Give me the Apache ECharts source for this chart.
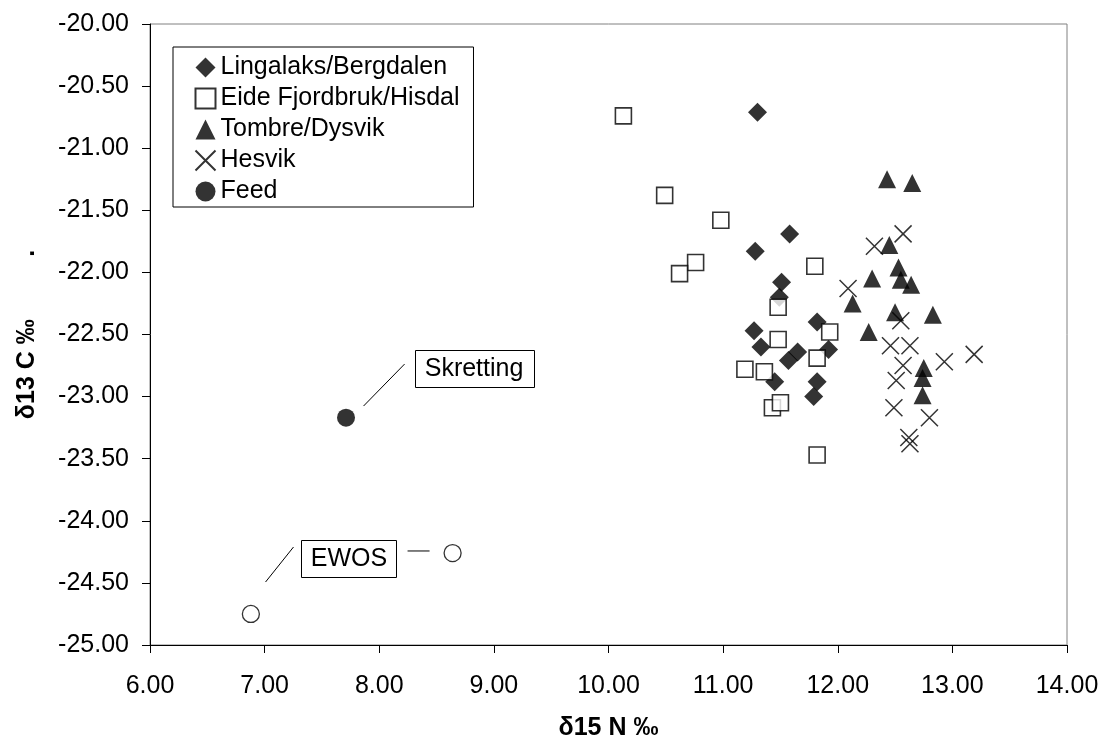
<!DOCTYPE html>
<html><head><meta charset="utf-8">
<script src="https://cdn.jsdelivr.net/npm/echarts@6/dist/echarts.min.js"></script>
<style>html,body{margin:0;padding:0;background:#fff}#c{width:1102px;height:738px}</style>
</head><body><div id="c"></div>
<script>
// ---- data (δ15N ‰, δ13C ‰) ----
const lingalaks = [
  [11.30,-20.71],[11.58,-21.69],[11.28,-21.83],[11.51,-22.08],[11.49,-22.20],
  [11.82,-22.40],[11.92,-22.62],[11.27,-22.47],[11.33,-22.60],[11.57,-22.71],
  [11.65,-22.64],[11.45,-22.88],[11.82,-22.88],[11.79,-23.00]
];
const eide = [
  [10.13,-20.74],[10.49,-21.38],[10.98,-21.58],[10.76,-21.92],[10.62,-22.01],
  [11.80,-21.95],[11.48,-22.28],[11.93,-22.48],[11.48,-22.54],[11.82,-22.69],
  [11.19,-22.78],[11.36,-22.80],[11.43,-23.09],[11.50,-23.05],[11.82,-23.47]
];
const tombre = [
  [12.43,-21.25],[12.65,-21.28],[12.45,-21.78],[12.53,-21.96],[12.30,-22.05],
  [12.55,-22.06],[12.64,-22.10],[12.13,-22.25],[12.50,-22.32],[12.83,-22.34],
  [12.27,-22.48],[12.75,-22.77],[12.74,-22.85],[12.74,-22.99]
];
const hesvik = [
  [12.57,-21.69],[12.32,-21.79],[12.09,-22.13],[12.55,-22.39],[12.46,-22.59],
  [12.63,-22.59],[13.19,-22.66],[12.93,-22.72],[12.57,-22.75],[12.51,-22.87],
  [12.49,-23.09],[12.80,-23.17],[12.62,-23.33],[12.63,-23.38]
];
const feedSkretting = [[7.71,-23.17]];
const feedEwos = [[6.88,-24.75],[8.64,-24.26]];
const seriesNames = ['Lingalaks/Bergdalen','Eide Fjordbruk/Hisdal','Tombre/Dysvik','Hesvik','Feed'];
const xTicks = {min:6, max:14, step:1};
const yTicks = {min:-25, max:-20, step:0.5};

const FONT = '"Liberation Sans", Arial, sans-serif';
const chart = echarts.init(document.getElementById('c'), null, {renderer:'canvas'});
const xPath = 'path://M0,0L20,20M20,0L0,20';

chart.setOption({
  animation:false,
  backgroundColor:'#fff',
  textStyle:{fontFamily:FONT, color:'#000'},
  grid:{left:150, right:35, top:24, bottom:93, containLabel:false, outerBoundsMode:'none',
        show:true, borderColor:'#808080', borderWidth:1, backgroundColor:'transparent'},
  legend:{
    data:seriesNames, orient:'vertical', left:173, top:47,
    backgroundColor:'#fff', borderColor:'#000', borderWidth:1,
    padding:[8,14,3,20], itemGap:6, itemWidth:20, itemHeight:20, itemTextGap:5,
    textStyle:{fontSize:25, fontFamily:FONT, color:'#000', lineHeight:24},
    selectedMode:false
  },
  xAxis:{
    type:'value', min:xTicks.min, max:xTicks.max, interval:xTicks.step,
    name:'δ15 N ‰', nameLocation:'middle', nameGap:71,
    nameTextStyle:{fontSize:25, fontWeight:'bold', fontFamily:FONT, color:'#000'},
    axisLine:{show:true, onZero:false, lineStyle:{color:'#000', width:1}},
    axisTick:{show:true, length:8, lineStyle:{color:'#000'}},
    axisLabel:{fontSize:25, margin:29, color:'#000', fontFamily:FONT, formatter:v=>v.toFixed(2)},
    splitLine:{show:false}
  },
  yAxis:{
    type:'value', min:yTicks.min, max:yTicks.max, interval:yTicks.step,
    name:'δ13 C ‰         .', nameLocation:'middle', nameGap:110, nameRotate:90,
    nameTextStyle:{fontSize:25, fontWeight:'bold', fontFamily:FONT, color:'#000'},
    axisLine:{show:true, onZero:false, lineStyle:{color:'#000', width:1}},
    axisTick:{show:true, length:8, lineStyle:{color:'#000'}},
    axisLabel:{fontSize:25, margin:21, color:'#000', fontFamily:FONT, formatter:v=>v.toFixed(2)},
    splitLine:{show:false}
  },
  series:[
    {name:seriesNames[0], type:'scatter', data:lingalaks, symbol:'diamond', symbolSize:19,
     itemStyle:{color:'#000'}},
    {name:seriesNames[1], type:'scatter', data:eide, symbol:'rect', symbolSize:16,
     itemStyle:{color:'#fff', borderColor:'#000', borderWidth:1.6}},
    {name:seriesNames[2], type:'scatter', data:tombre, symbol:'triangle', symbolSize:[18,18],
     itemStyle:{color:'#000'}},
    {name:seriesNames[3], type:'scatter', data:hesvik, symbol:xPath, symbolSize:17,
     itemStyle:{color:'none', borderColor:'#000', borderWidth:1.5}},
    {name:seriesNames[4], type:'scatter', data:feedSkretting, symbol:'circle', symbolSize:18,
     itemStyle:{color:'#000'}, z:3},
    {name:'EWOS', type:'scatter', data:feedEwos, symbol:'circle', symbolSize:17,
     itemStyle:{color:'#fff', borderColor:'#000', borderWidth:1.3}}
  ]
});

// ---- annotations (anchored in data coordinates) ----
const annotations = [
  {text:'Skretting', center:[8.827,-22.774], w:119, h:37,
   lines:[[[8.221,-22.738],[7.863,-23.076]]]},
  {text:'EWOS', center:[7.736,-24.304], w:95, h:37,
   lines:[[[7.252,-24.211],[7.008,-24.493]], [[8.247,-24.243],[8.439,-24.243]]]}
];
const px = p => chart.convertToPixel({gridIndex:0}, p);
const g = [];
annotations.forEach(a => {
  a.lines.forEach(l => {
    const p1 = px(l[0]), p2 = px(l[1]);
    g.push({type:'line', shape:{x1:p1[0], y1:p1[1], x2:p2[0], y2:p2[1]},
            style:{stroke:'#000', lineWidth:1}, z:10});
  });
  const c = px(a.center);
  g.push({type:'rect', shape:{x:Math.round(c[0]-a.w/2)+0.5, y:Math.round(c[1]-a.h/2)+0.5, width:a.w, height:a.h},
          style:{fill:'#fff', stroke:'#000', lineWidth:1}, z:10});
  g.push({type:'text', x:c[0], y:c[1]+1, style:{text:a.text, font:'25px '+FONT, fill:'#000',
          textAlign:'center', textVerticalAlign:'middle'}, z:11});
});
chart.setOption({graphic:g});
</script>
</body></html>
